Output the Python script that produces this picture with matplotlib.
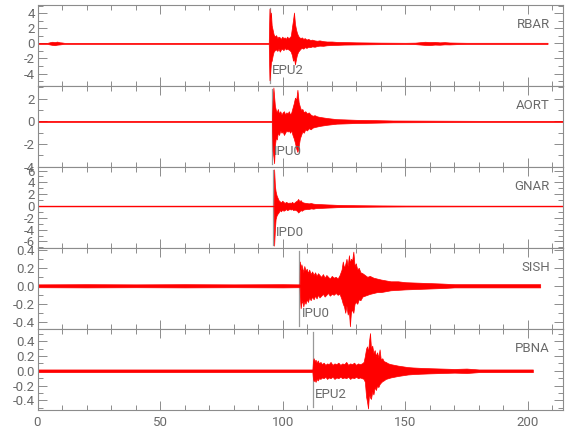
import matplotlib
matplotlib.use("Agg")
import matplotlib.pyplot as plt
from matplotlib.ticker import MultipleLocator, FormatStrFormatter

# ---------- Data ----------
# each trace is stored as its envelope: time (s), upper and lower extreme
stations = ["RBAR", "AORT", "GNAR", "SISH", "PBNA"]
pick_names = ["EPU2", "IPU0", "IPD0", "IPU0", "EPU2"]
pick_times = [94.7, 95.5, 96.2, 106.8, 112.2]

rbar_t = [0, 4, 5, 6, 7, 8, 9, 10, 11, 30, 60, 94.3,
          94.6, 94.9, 95.2, 95.5, 95.9, 96.3, 96.8, 97.3, 97.8, 98.3,
          98.8, 99.3, 99.8, 100.3, 100.8, 101.3, 101.8, 102.3, 102.8, 103.3,
          103.8, 104.2, 104.6, 105.0, 105.4, 105.8, 106.3, 106.8, 107.3, 107.8,
          108.4, 109.0, 109.7, 110.4, 111.2, 112.0, 113.0, 114.0, 115.0, 116.5,
          118.0, 120.0, 122.0, 125.0, 130.0, 135.0, 140.0, 150.0,
          154, 156, 158, 160, 162, 164, 166, 168, 171, 175, 190, 208]
rbar_hi = [0.07, 0.07, 0.15, 0.22, 0.17, 0.24, 0.15, 0.12, 0.07, 0.07, 0.07, 0.07,
           4.6, 3.2, 4.1, 2.4, 1.8, 1.2, 0.9, 1.1, 0.7, 0.9,
           0.8, 0.6, 0.9, 0.7, 0.8, 0.6, 0.9, 0.7, 0.8, 1.0,
           2.2, 3.1, 4.1, 2.6, 1.9, 1.4, 1.0, 0.8, 0.7, 0.8,
           0.6, 0.7, 0.5, 0.6, 0.45, 0.5, 0.4, 0.35, 0.4, 0.3,
           0.25, 0.25, 0.2, 0.18, 0.14, 0.12, 0.1, 0.08,
           0.1, 0.16, 0.22, 0.18, 0.2, 0.14, 0.17, 0.12, 0.1, 0.08, 0.08, 0.08]
rbar_lo = [-0.07, -0.07, -0.14, -0.2, -0.24, -0.17, -0.14, -0.1, -0.07, -0.07, -0.07, -0.07,
           -4.9, -3.8, -2.5, -2.3, -1.6, -1.1, -0.9, -0.8, -1.0, -0.7,
           -1.1, -0.8, -0.7, -0.9, -0.6, -0.8, -0.7, -0.8, -0.9, -1.1,
           -1.6, -2.3, -2.0, -2.8, -2.1, -1.5, -1.1, -0.9, -0.7, -0.6,
           -0.7, -0.5, -0.6, -0.45, -0.5, -0.4, -0.45, -0.35, -0.3, -0.32,
           -0.25, -0.22, -0.2, -0.16, -0.14, -0.12, -0.1, -0.08,
           -0.1, -0.15, -0.2, -0.22, -0.16, -0.18, -0.13, -0.14, -0.1, -0.08, -0.08, -0.08]

aort_t = [0, 30, 60, 95.6,
          95.9, 96.2, 96.5, 96.8, 97.2, 97.6, 98.0, 98.5, 99.0, 99.5,
          100.0, 100.5, 101.0, 101.5, 102.0, 102.5, 103.0, 103.5, 104.0,
          104.5, 105.0, 105.5, 106.0, 106.5, 107.0, 107.5, 108.0, 108.6, 109.2,
          109.9, 110.6, 111.4, 112.2, 113.0, 114.0, 115.0, 116.5, 118.0, 120.0,
          122.0, 125.0, 130.0, 136.0, 145.0, 180.0, 215.0]
aort_hi = [0.05, 0.05, 0.05, 0.05,
           1.8, 3.0, 2.2, 1.4, 1.0, 0.8, 1.1, 0.7, 0.9, 0.6,
           0.8, 0.9, 0.6, 0.8, 0.7, 0.9, 0.6, 0.8, 1.2,
           1.6, 2.1, 1.9, 2.8, 1.7, 1.3, 1.0, 1.1, 0.8, 0.9,
           0.7, 0.8, 0.6, 0.5, 0.55, 0.45, 0.4, 0.35, 0.3, 0.25,
           0.2, 0.18, 0.14, 0.12, 0.08, 0.05, 0.05]
aort_lo = [-0.05, -0.05, -0.05, -0.05,
           -2.6, -3.1, -3.7, -2.2, -1.4, -1.6, -1.0, -1.2, -0.8, -1.0,
           -0.9, -1.2, -1.0, -0.8, -0.9, -0.8, -1.0, -0.8, -1.2,
           -1.5, -1.9, -2.4, -2.7, -2.2, -1.5, -1.2, -0.9, -1.0, -0.7,
           -0.8, -0.6, -0.7, -0.55, -0.5, -0.45, -0.4, -0.35, -0.3, -0.25,
           -0.2, -0.18, -0.14, -0.12, -0.08, -0.05, -0.05]

gnar_t = [0, 30, 60, 96.3,
          96.5, 96.8, 97.1, 97.5, 97.9, 98.3, 98.8, 99.3, 99.8, 100.3,
          100.8, 101.3, 101.8, 102.3, 102.8, 103.3, 103.8, 104.3, 104.8, 105.3,
          105.8, 106.3, 106.8, 107.3, 107.8, 108.4, 109.0, 109.8, 110.6, 111.5,
          112.5, 113.5, 115.0, 116.5, 118.0, 120.0, 122.0, 125.0, 130.0, 135.0,
          140.0, 150.0, 180.0, 215.0]
gnar_hi = [0.06, 0.06, 0.06, 0.06,
           6.2, 3.5, 2.5, 1.8, 1.4, 1.0, 0.8, 0.6, 0.9, 0.7,
           0.5, 0.7, 0.6, 0.5, 0.6, 0.5, 0.7, 0.5, 0.6, 0.8,
           0.9, 1.2, 0.8, 1.0, 0.7, 0.6, 0.55, 0.5, 0.45, 0.5,
           0.4, 0.35, 0.33, 0.3, 0.27, 0.24, 0.2, 0.17, 0.14, 0.12,
           0.1, 0.08, 0.06, 0.06]
gnar_lo = [-0.06, -0.06, -0.06, -0.06,
           -6.7, -4.0, -2.2, -1.6, -1.3, -1.1, -0.7, -0.9, -0.6, -0.8,
           -0.7, -0.5, -0.7, -0.6, -0.5, -0.6, -0.5, -0.7, -0.6, -0.7,
           -0.8, -1.1, -0.9, -0.7, -0.8, -0.6, -0.55, -0.5, -0.5, -0.4,
           -0.45, -0.35, -0.33, -0.3, -0.27, -0.24, -0.2, -0.17, -0.14, -0.12,
           -0.1, -0.08, -0.06, -0.06]

sish_t = [0, 20, 40, 60, 80, 100, 106.9,
          107.0, 107.3, 107.6, 108.0, 108.4, 108.8, 109.3, 109.8, 110.3, 110.8,
          111.4, 112.0, 112.6, 113.2, 113.8, 114.4, 115.0, 115.7, 116.4, 117.1,
          117.8, 118.5, 119.2, 120.0, 120.8, 121.6, 122.4, 123.2, 124.0,
          124.5, 125.0, 125.5, 126.0, 126.5, 127.0, 127.4, 127.8, 128.3, 128.8,
          129.3, 129.8, 130.4, 131.0, 131.7, 132.5, 133.5, 134.5, 135.5, 137.0,
          138.5, 140.0, 142.0, 144.0, 147.0, 150.0, 155.0, 160.0, 165.0, 170.0,
          180, 190, 205]
sish_hi = [0.016, 0.018, 0.016, 0.018, 0.016, 0.018, 0.016,
           0.27, 0.18, 0.24, 0.2, 0.15, 0.22, 0.17, 0.19, 0.14, 0.18,
           0.13, 0.16, 0.12, 0.15, 0.11, 0.14, 0.12, 0.1, 0.13, 0.09,
           0.12, 0.1, 0.08, 0.11, 0.09, 0.1, 0.08, 0.12, 0.18,
           0.27, 0.2, 0.24, 0.3, 0.22, 0.34, 0.25, 0.3, 0.28, 0.38,
           0.22, 0.25, 0.18, 0.2, 0.15, 0.14, 0.12, 0.1, 0.11, 0.09,
           0.08, 0.07, 0.06, 0.05, 0.05, 0.04, 0.035, 0.03, 0.025, 0.018,
           0.018, 0.018, 0.018]
sish_lo = [-0.016, -0.018, -0.016, -0.018, -0.016, -0.018, -0.016,
           -0.12, -0.25, -0.2, -0.16, -0.23, -0.17, -0.2, -0.15, -0.18, -0.13,
           -0.16, -0.12, -0.15, -0.11, -0.14, -0.1, -0.13, -0.11, -0.09, -0.12,
           -0.1, -0.08, -0.11, -0.09, -0.1, -0.08, -0.1, -0.09, -0.15,
           -0.2, -0.23, -0.3, -0.22, -0.32, -0.28, -0.45, -0.3, -0.26, -0.3,
           -0.2, -0.18, -0.2, -0.15, -0.16, -0.12, -0.11, -0.1, -0.09, -0.08,
           -0.07, -0.07, -0.06, -0.05, -0.045, -0.04, -0.035, -0.03, -0.025, -0.018,
           -0.018, -0.018, -0.018]

pbna_t = [0, 20, 40, 60, 80, 100, 112.1,
          112.3, 112.6, 113.0, 113.4, 113.8, 114.3, 114.8, 115.4, 116.0, 116.7,
          117.4, 118.1, 118.8, 119.5, 120.3, 121.1, 121.9, 122.7, 123.5, 124.3,
          125.1, 125.9, 126.7, 127.5, 128.3, 129.1, 129.9, 130.7, 131.5, 132.3, 133.0,
          133.5, 134.0, 134.4, 134.8, 135.2, 135.6, 136.0, 136.5, 137.0, 137.5,
          138.0, 138.5, 139.0, 139.5, 140.0, 140.6, 141.2, 142.0, 143.0, 144.0,
          145.5, 147.0, 149.0, 151.0, 153.0, 156.0, 160.0, 165.0, 170.0, 175.0,
          180.0, 190.0, 202.0]
pbna_hi = [0.018, 0.018, 0.018, 0.018, 0.018, 0.018, 0.018,
           0.12, 0.17, 0.13, 0.15, 0.11, 0.14, 0.1, 0.12, 0.09, 0.11,
           0.08, 0.1, 0.09, 0.12, 0.08, 0.1, 0.09, 0.11, 0.08, 0.1,
           0.09, 0.12, 0.08, 0.1, 0.09, 0.11, 0.08, 0.1, 0.09, 0.1, 0.12,
           0.2, 0.3, 0.33, 0.25, 0.4, 0.51, 0.3, 0.34, 0.24, 0.28,
           0.2, 0.25, 0.18, 0.29, 0.15, 0.17, 0.13, 0.12, 0.1, 0.09,
           0.08, 0.07, 0.06, 0.05, 0.045, 0.04, 0.035, 0.03, 0.025, 0.03,
           0.018, 0.018, 0.018]
pbna_lo = [-0.018, -0.018, -0.018, -0.018, -0.018, -0.018, -0.018,
           -0.1, -0.14, -0.12, -0.15, -0.11, -0.13, -0.1, -0.11, -0.09, -0.1,
           -0.08, -0.11, -0.09, -0.1, -0.08, -0.11, -0.09, -0.1, -0.08, -0.1,
           -0.09, -0.1, -0.08, -0.11, -0.09, -0.1, -0.08, -0.1, -0.09, -0.1, -0.11,
           -0.15, -0.35, -0.42, -0.51, -0.3, -0.36, -0.38, -0.28, -0.32, -0.22,
           -0.26, -0.2, -0.22, -0.18, -0.16, -0.14, -0.13, -0.11, -0.1, -0.09,
           -0.08, -0.07, -0.06, -0.05, -0.045, -0.04, -0.035, -0.03, -0.025, -0.03,
           -0.018, -0.018, -0.018]

traces = [(rbar_t, rbar_hi, rbar_lo), (aort_t, aort_hi, aort_lo),
          (gnar_t, gnar_hi, gnar_lo), (sish_t, sish_hi, sish_lo),
          (pbna_t, pbna_hi, pbna_lo)]

# ---------- Panel settings ----------
ylims = [(-5.66, 5.1), (-4.03, 3.13), (-7.1, 6.6), (-0.48, 0.42), (-0.53, 0.565)]
ymajor = [2, 2, 2, 0.2, 0.2]
yminor = [1, 1, 1, 0.1, 0.1]
yfmt = ["%g", "%g", "%g", "%.1f", "%.1f"]

GRAY = "#8c8c8c"
TXT = "#6a6a6a"
RED = "#ff0000"

plt.rcParams["font.family"] = ["Roboto", "DejaVu Sans"]
plt.rcParams["axes.unicode_minus"] = True

fig, axes = plt.subplots(5, 1, figsize=(5.8, 4.4), dpi=100, sharex=True)
fig.subplots_adjust(left=37.5 / 580, right=563 / 580, top=1 - 5 / 440,
                    bottom=1 - 410 / 440, hspace=0)

for i, ax in enumerate(axes):
    t, hi, lo = traces[i]
    ax.axvline(pick_times[i], ymin=0.04, ymax=0.96, color="#999999", lw=0.9, zorder=1)
    ax.fill_between(t, lo, hi, facecolor=RED, edgecolor=RED, lw=0.5, zorder=2)
    ax.text(pick_times[i] + 1.0, 0.19, pick_names[i], transform=ax.get_xaxis_transform(),
            ha="left", va="center", fontsize=9.5, color=TXT, zorder=4)
    ax.text(0.975, 0.755, stations[i], transform=ax.transAxes, ha="right",
            va="center", fontsize=9.5, color=TXT)

    ax.set_xlim(0, 214.3)
    ax.set_ylim(*ylims[i])
    ax.xaxis.set_major_locator(MultipleLocator(50))
    ax.xaxis.set_minor_locator(MultipleLocator(10))
    ax.yaxis.set_major_locator(MultipleLocator(ymajor[i]))
    ax.yaxis.set_minor_locator(MultipleLocator(yminor[i]))
    ax.yaxis.set_major_formatter(FormatStrFormatter(yfmt[i]))
    ax.tick_params(which="both", direction="in", top=True, right=True,
                   color=GRAY, labelcolor=TXT, labelsize=9.5, width=0.7)
    ax.tick_params(which="major", length=6.5, pad=2)
    ax.tick_params(which="minor", length=3.5)
    for sp in ax.spines.values():
        sp.set_color(GRAY)
        sp.set_linewidth(0.8)

axes[-1].tick_params(axis="x", pad=4)

fig.savefig("out.png", dpi=100)
